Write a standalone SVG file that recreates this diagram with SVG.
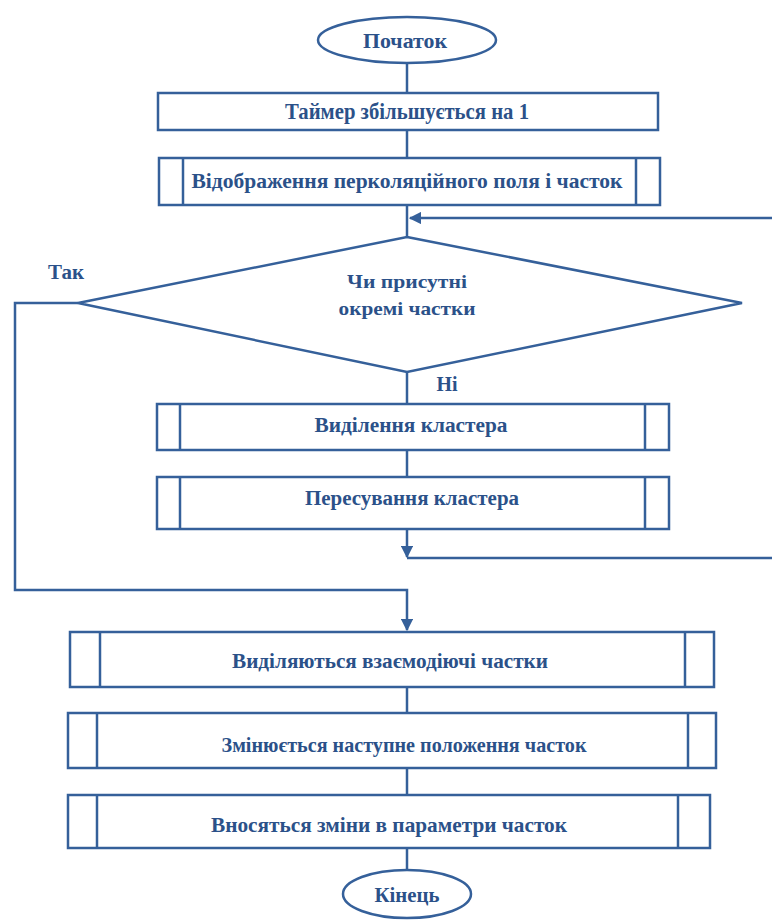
<svg xmlns="http://www.w3.org/2000/svg" width="772" height="922" viewBox="0 0 772 922">
  <defs>
    <marker id="arrow" viewBox="0 0 10 10" refX="9" refY="5" markerWidth="5" markerHeight="5" orient="auto" markerUnits="strokeWidth">
      <path d="M0,0 L10,5 L0,10 z" fill="#35609a"/>
    </marker>
    <style>
      .shape { fill: #ffffff; stroke: #35609a; stroke-width: 2.5; }
      .edge { fill: none; stroke: #35609a; stroke-width: 2.5; }
      .lbl { font-family: "Liberation Serif", "DejaVu Serif", serif; font-weight: bold; fill: #2b5189; text-anchor: middle; }
    </style>
  </defs>

  <g id="connectors">
    <line class="edge" x1="407" y1="62" x2="407" y2="93"/>
    <line class="edge" x1="407" y1="130" x2="407" y2="158"/>
    <line class="edge" x1="407" y1="205" x2="407" y2="237"/>
    <path class="edge" d="M772,218 L410,218" marker-end="url(#arrow)"/>
    <line class="edge" x1="407" y1="372" x2="407" y2="404"/>
    <line class="edge" x1="407" y1="450" x2="407" y2="477"/>
    <path class="edge" d="M407,529 L407,557" marker-end="url(#arrow)"/>
    <line class="edge" x1="407" y1="558" x2="772" y2="558"/>
    <path class="edge" d="M78,303 L15,303 L15,590 L407,590 L407,630" marker-end="url(#arrow)"/>
    <line class="edge" x1="407" y1="687" x2="407" y2="713"/>
    <line class="edge" x1="407" y1="768" x2="407" y2="795"/>
    <line class="edge" x1="407" y1="848" x2="407" y2="870"/>
    <text class="lbl" x="66" y="279" font-size="20" textLength="36" lengthAdjust="spacingAndGlyphs">Так</text>
    <text class="lbl" x="447" y="391" font-size="20" textLength="21" lengthAdjust="spacingAndGlyphs">Ні</text>
  </g>

  <g id="start">
    <ellipse class="shape" cx="407" cy="40" rx="89" ry="23"/>
    <text class="lbl" x="405" y="48" font-size="22" textLength="84" lengthAdjust="spacingAndGlyphs">Початок</text>
  </g>

  <g id="timer">
    <rect class="shape" x="158" y="93" width="500" height="37"/>
    <text class="lbl" x="407" y="119" font-size="23" textLength="244" lengthAdjust="spacingAndGlyphs">Таймер збільшується на 1</text>
  </g>

  <g id="display">
    <rect class="shape" x="159" y="158" width="501" height="47"/>
    <line class="edge" x1="183" y1="158" x2="183" y2="205"/>
    <line class="edge" x1="636" y1="158" x2="636" y2="205"/>
    <text class="lbl" x="407" y="188" font-size="22" textLength="431" lengthAdjust="spacingAndGlyphs">Відображення перколяційного поля і часток</text>
  </g>

  <g id="decision">
    <polygon class="shape" points="407,237 742,303 407,372 78,303"/>
    <text class="lbl" x="407" y="288" font-size="19" textLength="120" lengthAdjust="spacingAndGlyphs">Чи присутні</text>
    <text class="lbl" x="407" y="315" font-size="19" textLength="137" lengthAdjust="spacingAndGlyphs">окремі частки</text>
  </g>

  <g id="select-cluster">
    <rect class="shape" x="157" y="404" width="512" height="46"/>
    <line class="edge" x1="180" y1="404" x2="180" y2="450"/>
    <line class="edge" x1="645" y1="404" x2="645" y2="450"/>
    <text class="lbl" x="411" y="432" font-size="20" textLength="193" lengthAdjust="spacingAndGlyphs">Виділення кластера</text>
  </g>

  <g id="move-cluster">
    <rect class="shape" x="157" y="477" width="512" height="52"/>
    <line class="edge" x1="180" y1="477" x2="180" y2="529"/>
    <line class="edge" x1="645" y1="477" x2="645" y2="529"/>
    <text class="lbl" x="412" y="505" font-size="20" textLength="214" lengthAdjust="spacingAndGlyphs">Пересування кластера</text>
  </g>

  <g id="interacting">
    <rect class="shape" x="70" y="632" width="644" height="55"/>
    <line class="edge" x1="100" y1="632" x2="100" y2="687"/>
    <line class="edge" x1="685" y1="632" x2="685" y2="687"/>
    <text class="lbl" x="390" y="668" font-size="21" textLength="316" lengthAdjust="spacingAndGlyphs">Виділяються взаємодіючі частки</text>
  </g>

  <g id="next-position">
    <rect class="shape" x="68" y="713" width="648" height="55"/>
    <line class="edge" x1="97" y1="713" x2="97" y2="768"/>
    <line class="edge" x1="688" y1="713" x2="688" y2="768"/>
    <text class="lbl" x="404" y="752" font-size="21" textLength="365" lengthAdjust="spacingAndGlyphs">Змінюється наступне положення часток</text>
  </g>

  <g id="update-params">
    <rect class="shape" x="68" y="795" width="642" height="53"/>
    <line class="edge" x1="97" y1="795" x2="97" y2="848"/>
    <line class="edge" x1="678" y1="795" x2="678" y2="848"/>
    <text class="lbl" x="389" y="832" font-size="21" textLength="356" lengthAdjust="spacingAndGlyphs">Вносяться зміни в параметри часток</text>
  </g>

  <g id="end">
    <ellipse class="shape" cx="407" cy="894" rx="64" ry="24"/>
    <text class="lbl" x="407" y="902" font-size="21" textLength="65" lengthAdjust="spacingAndGlyphs">Кінець</text>
  </g>
</svg>
